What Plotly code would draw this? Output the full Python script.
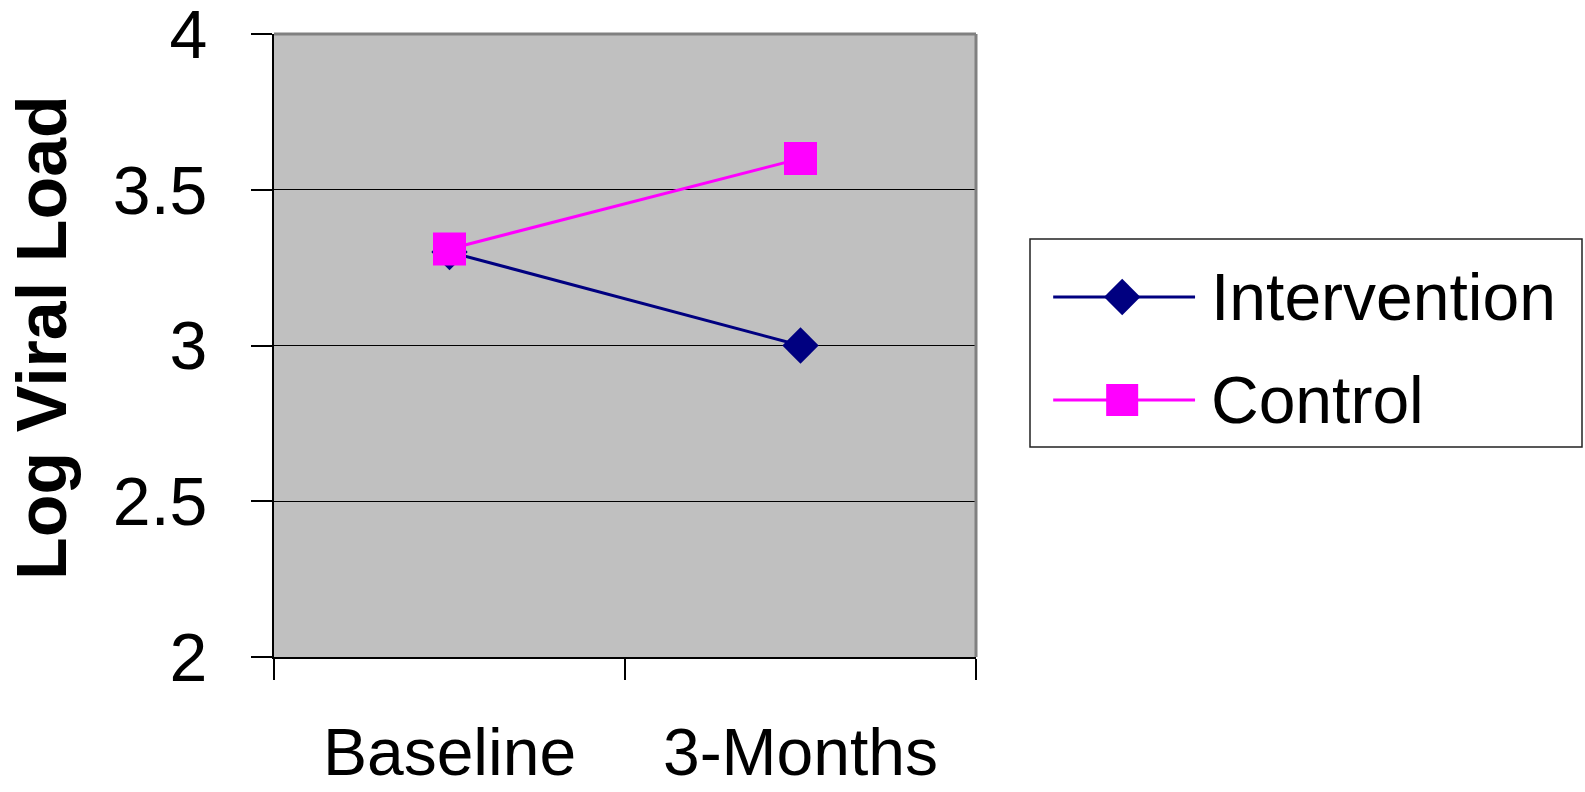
import plotly.graph_objects as go

# Data
timepoints = ["Baseline", "3-Months"]
intervention = [3.30, 3.00]
control = [3.31, 3.60]
y_ticks = [2, 2.5, 3, 3.5, 4]
y_tick_labels = ["2", "2.5", "3", "3.5", "4"]
series_names = ["Intervention", "Control"]

W, H = 1585, 792
FONT = "Liberation Sans, Arial, sans-serif"
NAVY = "#000080"
MAGENTA = "#FF00FF"

# plot area in pixels (figure has no margins; axes are placed via domains)
PL, PR, PT, PB = 274, 976, 34, 657


def px(x):
    return x / W


def py(y):
    return 1 - y / H


fig = go.Figure()

fig.add_trace(go.Scatter(
    x=timepoints, y=intervention, name=series_names[0], mode="lines+markers",
    line=dict(color=NAVY, width=3),
    marker=dict(symbol="diamond", size=28, color=NAVY),
    showlegend=False,
))
fig.add_trace(go.Scatter(
    x=timepoints, y=control, name=series_names[1], mode="lines+markers",
    line=dict(color=MAGENTA, width=3),
    marker=dict(symbol="square", size=33, color=MAGENTA),
    showlegend=False,
))

# Custom legend drawn on an overlay axis covering the legend box
LX0, LX1, LY0, LY1 = 1030, 1582, 239, 447
leg_rows = [0.279, 0.774]  # row centres, fraction from top of the box
leg_styles = [
    (NAVY, "diamond", 28),
    (MAGENTA, "square", 32),
]
annotations = []
for name, row, (col, sym, sz) in zip(series_names, leg_rows, leg_styles):
    fig.add_trace(go.Scatter(
        x=[0.042, 0.167, 0.299], y=[row, row, row],
        mode="lines", line=dict(color=col, width=3),
        xaxis="x2", yaxis="y2", showlegend=False, hoverinfo="skip",
    ))
    fig.add_trace(go.Scatter(
        x=[0.167], y=[row], mode="markers",
        marker=dict(symbol=sym, size=sz, color=col),
        xaxis="x2", yaxis="y2", showlegend=False, hoverinfo="skip",
    ))
    annotations.append(dict(
        x=0.325, y=row, xref="x2", yref="y2", text=name, showarrow=False,
        xanchor="left", yanchor="middle",
        font=dict(family=FONT, size=66, color="black"),
    ))

annotations.append(dict(
    text="<b>Log Viral Load</b>", textangle=-90, showarrow=False,
    xref="paper", yref="paper", x=px(42), y=py(338),
    xanchor="center", yanchor="middle",
    font=dict(family=FONT, size=70, color="black"),
))

fig.update_layout(
    width=W, height=H,
    margin=dict(l=0, r=0, t=0, b=0, pad=0),
    paper_bgcolor="white",
    plot_bgcolor="rgba(0,0,0,0)",
    font=dict(family=FONT, color="black"),
    xaxis=dict(
        domain=[px(PL), px(PR)], automargin=False,
        type="category", range=[-0.5, 1.5],
        tickson="boundaries", ticks="outside", ticklen=21, tickwidth=1.5,
        tickcolor="black", showline=True, linecolor="black", linewidth=2,
        showgrid=False, zeroline=False,
        tickfont=dict(family=FONT, size=66),
        ticklabelstandoff=37, ticklabeloverflow="allow",
    ),
    yaxis=dict(
        domain=[py(PB), py(PT)], automargin=False,
        range=[2, 4], tickvals=y_ticks, ticktext=y_tick_labels,
        ticks="outside", ticklen=21, tickwidth=1.5, tickcolor="black",
        showline=True, linecolor="black", linewidth=2,
        showgrid=True, gridcolor="black", gridwidth=1, zeroline=False,
        tickfont=dict(family=FONT, size=68),
        ticklabelstandoff=30, ticklabeloverflow="allow",
    ),
    xaxis2=dict(domain=[px(LX0), px(LX1)], range=[0, 1], visible=False,
                anchor="y2", fixedrange=True, automargin=False),
    yaxis2=dict(domain=[py(LY1), py(LY0)], range=[1, 0], visible=False,
                anchor="x2", fixedrange=True, automargin=False),
    annotations=annotations,
    shapes=[
        # grey plot area background, beneath the gridlines
        dict(type="rect", xref="x domain", yref="y domain", x0=0, x1=1,
             y0=0, y1=1, layer="below", fillcolor="#C0C0C0",
             line=dict(width=0)),
        # top and right frame of the plot area
        dict(type="line", xref="paper", yref="paper", x0=px(PL), x1=px(PR),
             y0=py(PT), y1=py(PT), line=dict(color="#808080", width=3)),
        dict(type="line", xref="paper", yref="paper", x0=px(PR), x1=px(PR),
             y0=py(PT), y1=py(PB), line=dict(color="#808080", width=3)),
        # legend box
        dict(type="rect", xref="paper", yref="paper",
             x0=px(LX0), x1=px(LX1), y0=py(LY1), y1=py(LY0),
             line=dict(color="#222222", width=1.5), fillcolor="rgba(0,0,0,0)"),
    ],
)

fig.write_html("out.html")
